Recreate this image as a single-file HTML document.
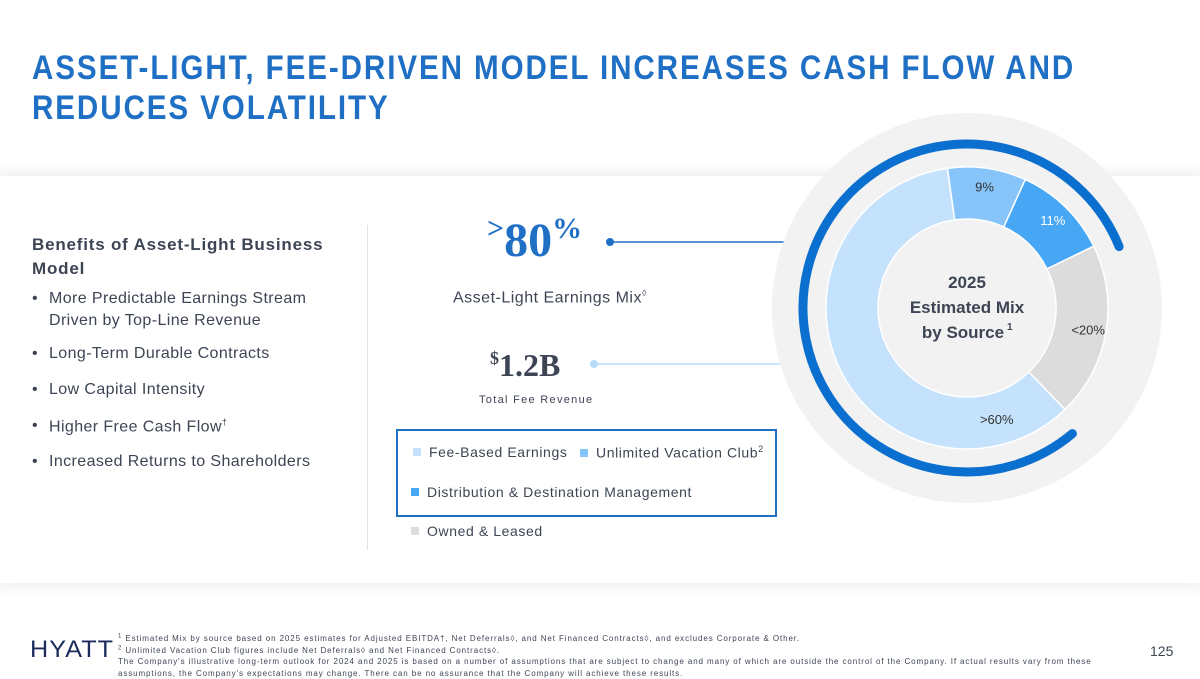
<!DOCTYPE html>
<html><head><meta charset="utf-8"><style>
body{margin:0;width:1200px;height:675px;overflow:hidden;background:#fff;font-family:"Liberation Sans",sans-serif;position:relative;color:#3d4554}
.abs{position:absolute}
h1{position:absolute;left:32px;top:48px;margin:0;font-size:34px;line-height:40px;color:#1f6fc5;letter-spacing:2.2px;font-weight:bold;white-space:nowrap;transform:scaleX(0.87);transform-origin:left}
.panel{left:0;top:176px;width:1200px;height:407px;background:#fff;box-shadow:0 0 14px 4px rgba(0,0,0,0.07)}
.bul{left:32px;font-size:16px;letter-spacing:0.4px;color:#3d4554}
.bul span{position:absolute;left:0}
.bul div{padding-left:17px}
.leg{font-size:14px;letter-spacing:0.6px;color:#3d4554;white-space:nowrap}
.sw{display:inline-block;width:8px;height:8px;margin-right:8px;vertical-align:1px}
</style></head><body>
<h1>ASSET-LIGHT, FEE-DRIVEN MODEL INCREASES CASH FLOW AND<br>REDUCES VOLATILITY</h1>
<div class="abs panel"></div>
<div class="abs" style="left:32px;top:233px;font-size:17px;font-weight:bold;letter-spacing:0.8px;line-height:24px;color:#3d4554">Benefits of Asset-Light Business<br>Model</div>
<div class="abs bul" style="top:288px;line-height:22px"><span>•</span><div>More Predictable Earnings Stream<br>Driven by Top-Line Revenue</div></div>
<div class="abs bul" style="top:345px"><span>•</span><div>Long-Term Durable Contracts</div></div>
<div class="abs bul" style="top:381px"><span>•</span><div>Low Capital Intensity</div></div>
<div class="abs bul" style="top:417px"><span>•</span><div>Higher Free Cash Flow<sup style="font-size:9px">†</sup></div></div>
<div class="abs bul" style="top:453px"><span>•</span><div>Increased Returns to Shareholders</div></div>
<div class="abs" style="left:367px;top:225px;width:1px;height:325px;background:#e3e3e3"></div>

<div class="abs" style="left:487px;top:212px;font-family:'Liberation Serif',serif;font-weight:bold;color:#1f6fc5"><span style="font-size:30px;vertical-align:18px">&gt;</span><span style="font-size:48px">80</span><span style="font-size:30px;vertical-align:18px">%</span></div>
<div class="abs" style="left:453px;top:288px;font-size:16px;letter-spacing:0.5px">Asset-Light Earnings Mix<sup style="font-size:9px">◊</sup></div>
<div class="abs" style="left:490px;top:347px;font-family:'Liberation Serif',serif;font-weight:bold;color:#3d4554"><span style="font-size:18px;vertical-align:12px">$</span><span style="font-size:32px">1.2B</span></div>
<div class="abs" style="left:479px;top:394px;font-size:11px;letter-spacing:1.3px">Total Fee Revenue</div>

<div class="abs" style="left:396px;top:429px;width:377px;height:84px;border:2px solid #1f6fc5"></div>
<div class="abs leg" style="left:413px;top:444px"><span class="sw" style="background:#c4e2fb"></span>Fee-Based Earnings</div>
<div class="abs leg" style="left:580px;top:444px"><span class="sw" style="background:#86c4fa"></span>Unlimited Vacation Club<sup style="font-size:9px">2</sup></div>
<div class="abs leg" style="left:411px;top:484px"><span class="sw" style="background:#47a7f4"></span>Distribution &amp; Destination Management</div>
<div class="abs leg" style="left:411px;top:523px"><span class="sw" style="background:#dcdcdc"></span>Owned &amp; Leased</div>

<svg class="abs" style="left:0;top:0" width="1200" height="675">
<line x1="610" y1="242" x2="830" y2="242" stroke="#1f6fc5" stroke-width="1.5"/>
<circle cx="610" cy="242" r="4" fill="#1f6fc5"/>
<line x1="594" y1="364" x2="830" y2="364" stroke="#b9dcf8" stroke-width="1.5"/>
<circle cx="594" cy="364" r="4" fill="#b9dcf8"/>
<g id="donut"></g>
</svg>

<div class="abs" style="left:118px;top:633px;font-size:8px;letter-spacing:0.9px;line-height:11.5px;width:1000px">
<sup style="font-size:6px;line-height:0">1</sup> Estimated Mix by source based on 2025 estimates for Adjusted EBITDA†, Net Deferrals◊, and Net Financed Contracts◊, and excludes Corporate &amp; Other.<br>
<sup style="font-size:6px;line-height:0">2</sup> Unlimited Vacation Club figures include Net Deferrals◊ and Net Financed Contracts◊.<br>
The Company's illustrative long-term outlook for 2024 and 2025 is based on a number of assumptions that are subject to change and many of which are outside the control of the Company. If actual results vary from these assumptions, the Company's expectations may change. There can be no assurance that the Company will achieve these results.</div>
<div class="abs" style="left:30px;top:636px;font-size:24px;letter-spacing:1px;color:#1c2b5c;transform:scaleX(1.05);transform-origin:left">HYATT</div>
<div class="abs" style="left:1150px;top:643px;font-size:14px;color:#3d4554">125</div>

<script>
const categories=["Unlimited Vacation Club","Distribution & Destination Management","Owned & Leased","Fee-Based Earnings"];
const values=[9,11,20,60];
const labels=["9%","11%","<20%",">60%"];
const colors=["#86c4fa","#47a7f4","#dcdcdc","#c4e2fb"];
const assetLight=[80];
const cx=967,cy=308,R=141,r=89,start=-8;
const svgNS="http://www.w3.org/2000/svg";
const g=document.getElementById('donut');
function pt(a,rad){const t=(a-90)*Math.PI/180;return [cx+rad*Math.cos(t),cy+rad*Math.sin(t)];}
function mk(tag,attrs){const e=document.createElementNS(svgNS,tag);for(const k in attrs)e.setAttribute(k,attrs[k]);g.appendChild(e);return e;}
mk('circle',{cx:cx,cy:cy,r:195,fill:'#f2f2f2'});
const total=values.reduce((a,b)=>a+b,0);
let a=start;
values.forEach((v,i)=>{
 const a2=a+v/total*360;
 const [x1,y1]=pt(a,R),[x2,y2]=pt(a2,R),[x3,y3]=pt(a2,r),[x4,y4]=pt(a,r);
 const lg=(a2-a)>180?1:0;
 const p=mk('path',{d:`M${x1},${y1}A${R},${R} 0 ${lg} 1 ${x2},${y2}L${x3},${y3}A${r},${r} 0 ${lg} 0 ${x4},${y4}Z`,fill:colors[i],stroke:'#fff','stroke-width':1.5});
 
 
 const mid=(a+a2)/2;const rr=i==3?(R+r)/2:(R+r)/2+8;
 const ang=i==3?165:mid;
 const [lx,ly]=pt(ang,rr);
 const t=mk('text',{x:lx,y:ly+5,'text-anchor':'middle','font-size':13,fill:i==1?'#fff':'#333','font-family':'Liberation Sans, sans-serif'});
 t.textContent=labels[i];
 
 
 a=a2;
});
const arcEnd=start+(values[0]+values[1])/total*360+4, span=assetLight[0]/100*360;
const ar=164;
const [s1,s2]=pt(arcEnd-span,ar),[e1,e2]=pt(arcEnd,ar);
const arc=mk('path',{d:`M${s1},${s2}A${ar},${ar} 0 ${span>180?1:0} 1 ${e1},${e2}`,fill:'none',stroke:'#0a6fce','stroke-width':9,'stroke-linecap':'round'});


["2025","Estimated Mix","by Source"].forEach((s,i)=>{
 const t=mk('text',{x:cx+(i==2?-4:0),y:cy-20+i*25,'text-anchor':'middle','font-size':17,'font-weight':'bold',fill:'#3d4554','font-family':'Liberation Sans, sans-serif'});
 t.textContent=s;
 
 
});
const sup=mk('text',{x:cx+40,y:cy+22,'font-size':10,'font-weight':'bold',fill:'#3d4554','font-family':'Liberation Sans, sans-serif'});
sup.textContent="1";


</script>
</body></html>
